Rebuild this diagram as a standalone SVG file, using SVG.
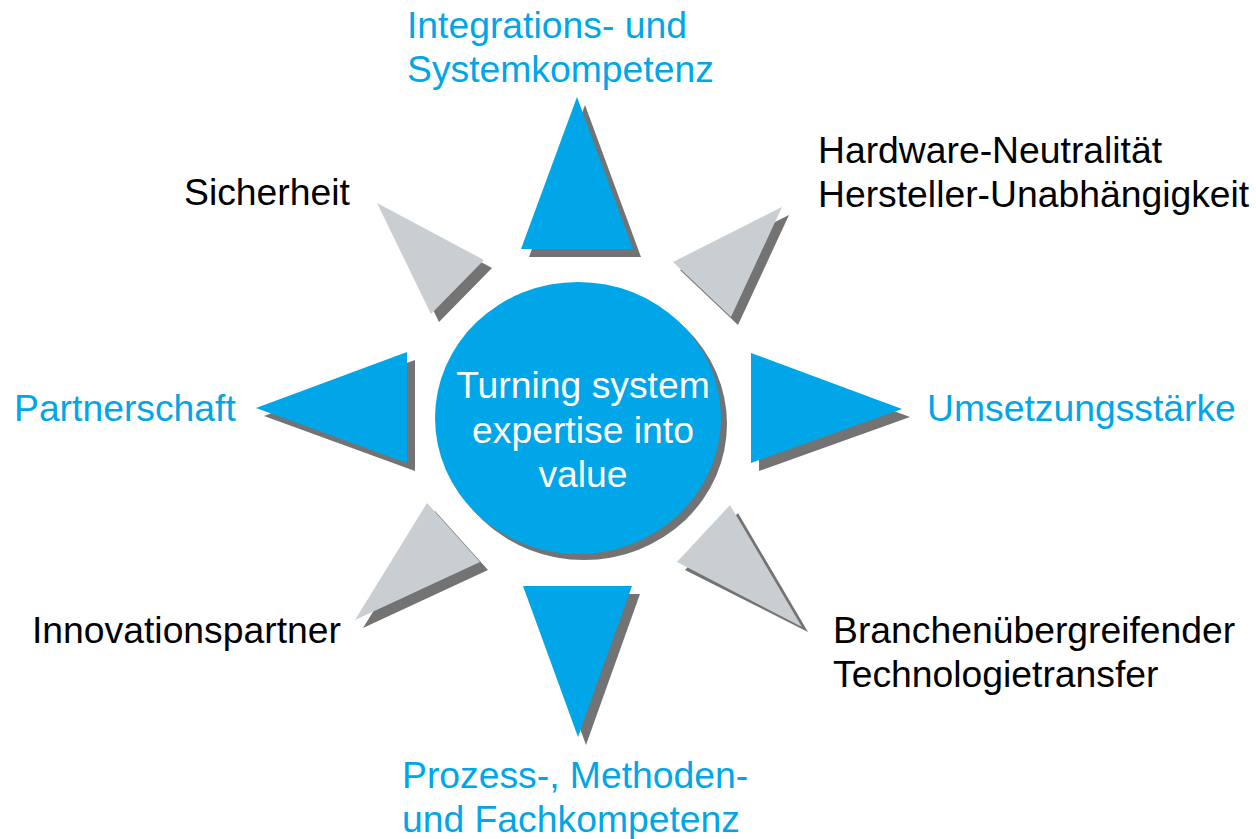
<svg xmlns="http://www.w3.org/2000/svg" width="1256" height="839" viewBox="0 0 1256 839">
<style>
.blue{fill:#00A6E8}
.gray{fill:#C9CED2}
.sh{fill:#737373}
.t{font-family:"Liberation Sans",Arial,sans-serif;font-size:37.3px}
.tb{fill:#00A6E8}
.tk{fill:#000000}
.tw{fill:#FFFFFF}
</style>
<rect width="1256" height="839" fill="#FFFFFF"/>
<g id="ray-top">
<polygon class="sh" points="585,105 529,257 641,257"/>
<polygon class="blue" points="577,97 521,249 633,249"/>
</g>
<g id="ray-topright">
<polygon class="sh" points="789,215 680,270 738,325"/>
<polygon class="gray" points="782,207 673,262 731,317"/>
</g>
<g id="ray-right">
<polygon class="sh" points="759,361 910,417 759,471"/>
<polygon class="blue" points="751,353 902,409 751,463"/>
</g>
<g id="ray-bottomright">
<polygon class="sh" points="738,513 685,570 808,632"/>
<polygon class="gray" points="730,505 677,562 802,627"/>
</g>
<g id="ray-bottom">
<polygon class="sh" points="531,594 640,594 586,745"/>
<polygon class="blue" points="523,586 632,586 578,737"/>
</g>
<g id="ray-bottomleft">
<polygon class="sh" points="435,511 488,570 363,628"/>
<polygon class="gray" points="427,503 480,562 355,620"/>
</g>
<g id="ray-left">
<polygon class="sh" points="264,416 415,360 415,471"/>
<polygon class="blue" points="256,408 407,352 407,463"/>
</g>
<g id="ray-topleft">
<polygon class="sh" points="385,211 492,268 439,322"/>
<polygon class="gray" points="377,203 484,260 431,314"/>
</g>
<g id="center">
<ellipse class="sh" cx="584" cy="424" rx="143" ry="136"/>
<ellipse class="blue" cx="578" cy="418" rx="143" ry="136"/>
<text class="t tw" x="583" y="398" text-anchor="middle">Turning system</text>
<text class="t tw" x="583" y="443" text-anchor="middle">expertise into</text>
<text class="t tw" x="583" y="487" text-anchor="middle">value</text>
</g>
<g id="label-top">
<text class="t tb" x="407" y="38">Integrations- und</text>
<text class="t tb" x="407" y="82">Systemkompetenz</text>
</g>
<g id="label-topright">
<text class="t tk" x="818" y="163">Hardware-Neutralität</text>
<text class="t tk" x="818" y="207">Hersteller-Unabhängigkeit</text>
</g>
<g id="label-right">
<text class="t tb" x="927" y="421">Umsetzungsstärke</text>
</g>
<g id="label-bottomright">
<text class="t tk" x="833" y="643">Branchenübergreifender</text>
<text class="t tk" x="833" y="687">Technologietransfer</text>
</g>
<g id="label-bottom">
<text class="t tb" x="402" y="788">Prozess-, Methoden-</text>
<text class="t tb" x="402" y="832">und Fachkompetenz</text>
</g>
<g id="label-bottomleft">
<text class="t tk" x="32" y="643">Innovationspartner</text>
</g>
<g id="label-left">
<text class="t tb" x="14" y="421">Partnerschaft</text>
</g>
<g id="label-topleft">
<text class="t tk" x="184" y="205">Sicherheit</text>
</g>
<g id="connectors"></g>
</svg>
